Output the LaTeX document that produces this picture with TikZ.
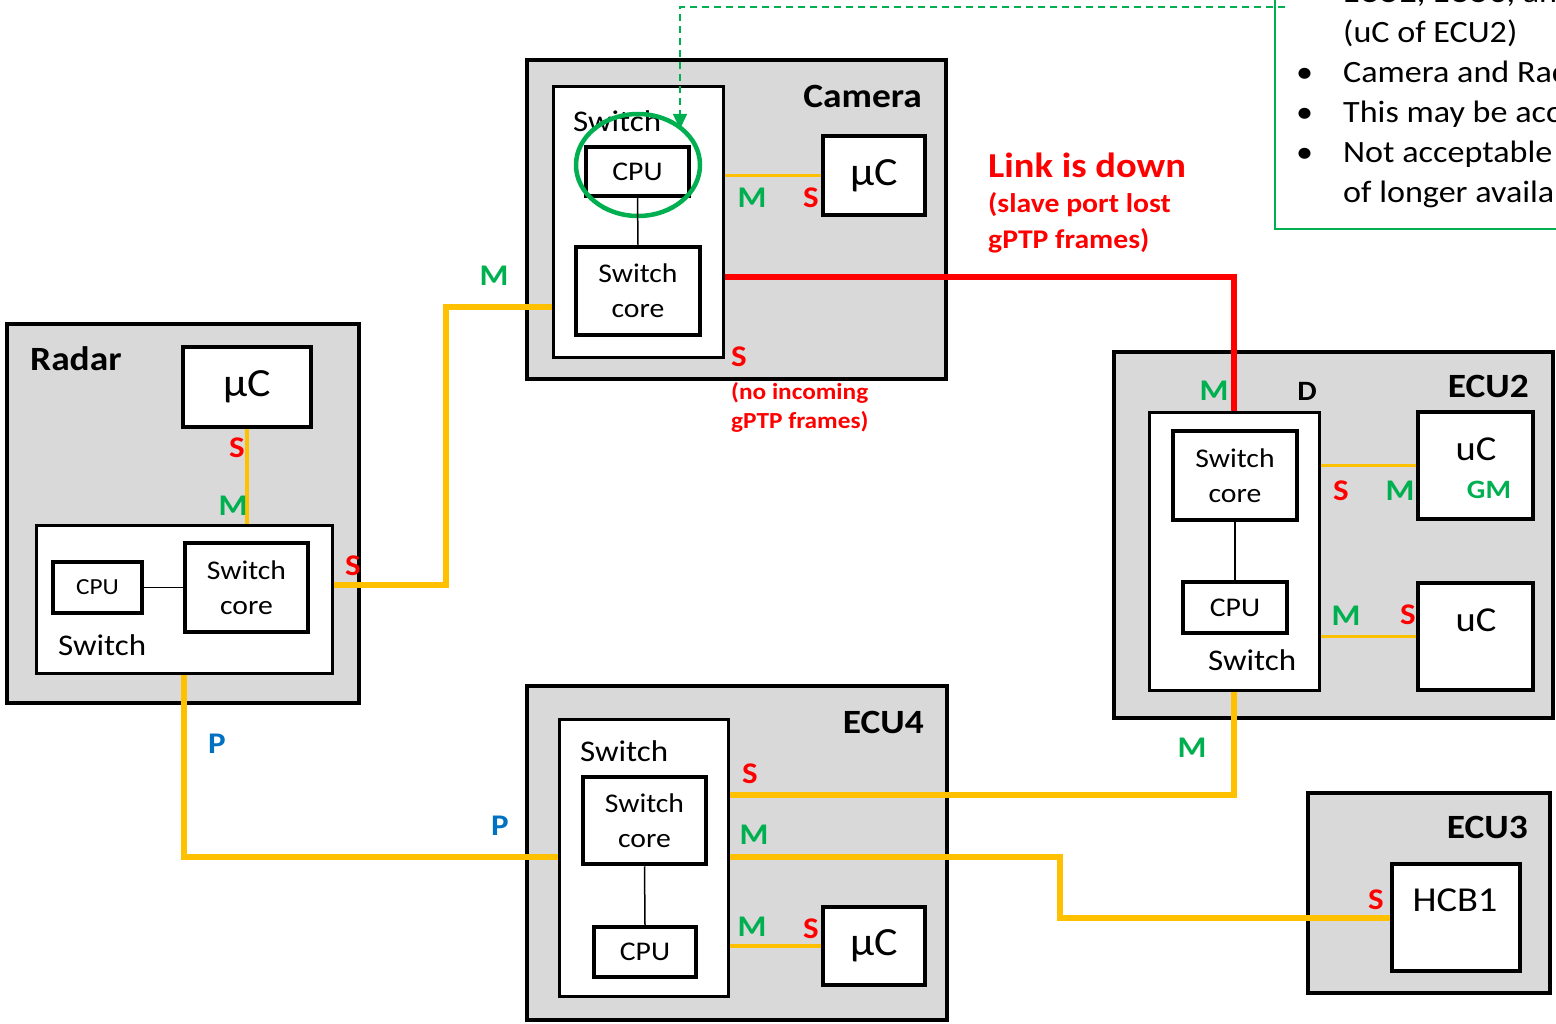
\documentclass[tikz,border=0pt]{standalone}
\usepackage{fontspec}
\setmainfont{Carlito}[FakeStretch=1.1]
\usetikzlibrary{shapes.geometric,arrows.meta}
\definecolor{boxgray}{HTML}{D9D9D9}
\definecolor{lorange}{HTML}{FFC000}
\definecolor{mgreen}{HTML}{00B050}
\definecolor{sred}{HTML}{FF0000}
\definecolor{pblue}{HTML}{0070C0}
\newcommand{\fsz}[2]{\fontsize{#1}{#2}\selectfont}
\tikzset{
  outer/.style={draw, fill=boxgray, line width=4pt, inner sep=0pt},
  swbox/.style={draw, fill=white, line width=3pt, inner sep=0pt},
  inbox/.style={draw, fill=white, line width=4.5pt, inner sep=0pt, align=center},
  mubox/.style={draw, fill=white, line width=3.5pt, inner sep=0pt},
  titletxt/.style={inner sep=0pt, font=\fsz{34}{38}\bfseries},
  swtxt/.style={inner sep=0pt, font=\fsz{30}{34}},
  coretxt/.style={font=\fsz{27}{35}},
  cputxt/.style={font=\fsz{27}{30}},
  mutxt/.style={font=\fsz{40}{42}},
  uctxt/.style={inner sep=0pt, font=\fsz{35}{38}},
  portM/.style={inner sep=0pt, text=mgreen, font=\fsz{30}{32}\bfseries},
  portS/.style={inner sep=0pt, text=sred, font=\fsz{30}{32}\bfseries},
  portP/.style={inner sep=0pt, text=pblue, font=\fsz{30}{32}\bfseries},
  redtxt/.style={inner sep=0pt, text=sred, font=\bfseries, anchor=west},
  notetxt/.style={inner sep=0pt, anchor=base west, font=\fsz{31}{34}},
  thickline/.style={draw=lorange, line width=6pt},
  thinline/.style={draw=lorange, line width=3.5pt},
  redline/.style={draw=sred, line width=6pt},
  innerline/.style={draw=black, line width=1.5pt},
}
\begin{document}
\begin{tikzpicture}[x=1pt,y=-1pt]
\useasboundingbox (0,0) rectangle (1556,1024);
\clip (0,0) rectangle (1556,1024);

% ---------- outer boxes ----------
\node[outer, minimum width=419, minimum height=319] (cam) at (736.5,219.5) {};
\node[outer, minimum width=352, minimum height=379] (radar) at (183,513.5) {};
\node[outer, minimum width=420, minimum height=334] (ecu4) at (737,853) {};
\node[outer, minimum width=439, minimum height=366] (ecu2) at (1333.5,535) {};
\node[outer, minimum width=242, minimum height=200] (ecu3) at (1429,893) {};

\node[titletxt, anchor=east] (camt) at (922,96) {Camera};
\node[titletxt, anchor=west] (radt) at (30,359) {Radar};
\node[titletxt, anchor=east] (e4t) at (924,722) {ECU4};
\node[titletxt, anchor=east] (e2t) at (1529,386) {ECU2};
\node[titletxt, anchor=east] (e3t) at (1528,827) {ECU3};

% ---------- note box ----------
\node[draw=mgreen, line width=2pt, minimum width=320, minimum height=270, inner sep=0pt] (note) at (1435,94) {};
\node[notetxt] (n0) at (1343,3) {ECU2, ECU3, and};
\node[notetxt] (n1) at (1343,43) {(uC of ECU2)};
\node[notetxt] (b2) at (1296,83) {•};
\node[notetxt] (n2) at (1343,83) {Camera and Radar};
\node[notetxt] (b3) at (1296,123) {•};
\node[notetxt] (n3) at (1343,123) {This may be acceptable};
\node[notetxt] (b4) at (1296,163) {•};
\node[notetxt] (n4) at (1343,163) {Not acceptable};
\node[notetxt] (n5) at (1343,203) {of longer availability};

% ---------- Camera ----------
\node[swbox, minimum width=170, minimum height=271] (camsw) at (638,222.5) {};
\node[swtxt, anchor=west] (camswt) at (573,121) {Switch};
\node[inbox, cputxt, minimum width=103, minimum height=49] (camcpu) at (637.5,171.5) {CPU};
\node[inbox, coretxt, minimum width=124, minimum height=88] (camcore) at (638,291) {Switch\\core};
\node[mubox, mutxt, minimum width=102, minimum height=79] (cammu) at (874,175.5) {µC};
\node[draw=mgreen, line width=4.5pt, ellipse, minimum width=124, minimum height=102, inner sep=0pt] (ell) at (638,165) {};

% ---------- Radar ----------
\node[mubox, mutxt, minimum width=128, minimum height=80] (rmu) at (247,387) {µC};
\node[swbox, minimum width=296, minimum height=148] (rsw) at (184,599) {};
\node[inbox, font=\fsz{23}{28}, minimum width=89, minimum height=51] (rcpu) at (97.5,587.5) {CPU};
\node[inbox, coretxt, minimum width=123, minimum height=89] (rcore) at (246.5,587.5) {Switch\\core};
\node[swtxt, anchor=west] (rswt) at (58,645) {Switch};

% ---------- ECU4 ----------
\node[swbox, minimum width=169, minimum height=277] (e4sw) at (643.5,857.5) {};
\node[swtxt, anchor=west] (e4swt) at (580,751) {Switch};
\node[inbox, coretxt, minimum width=123, minimum height=87] (e4core) at (644.5,820.5) {Switch\\core};
\node[inbox, cputxt, minimum width=102, minimum height=50] (e4cpu) at (645,952) {CPU};
\node[mubox, mutxt, minimum width=102, minimum height=78] (e4mu) at (874,946) {µC};

% ---------- ECU2 ----------
\node[swbox, minimum width=170, minimum height=278] (e2sw) at (1234,551) {};
\node[inbox, coretxt, minimum width=124, minimum height=89] (e2core) at (1235,475.5) {Switch\\core};
\node[inbox, cputxt, minimum width=104, minimum height=51] (e2cpu) at (1235,607.5) {CPU};
\node[swtxt, anchor=west] (e2swt) at (1208,660) {Switch};
\node[mubox, minimum width=115, minimum height=107] (uc1) at (1475.5,465.5) {};
\node[uctxt] (uc1t) at (1476,449) {uC};
\node[inner sep=0pt, text=mgreen, font=\fsz{26.5}{30}\bfseries] (gm) at (1489,490) {GM};
\node[mubox, minimum width=115, minimum height=107] (uc2) at (1475.5,636.5) {};
\node[uctxt] (uc2t) at (1476,620) {uC};

% ---------- ECU3 ----------
\node[mubox, minimum width=128, minimum height=107] (hcb) at (1456,917.5) {};
\node[uctxt] (hcbt) at (1455,900) {HCB1};

% ---------- inner lines ----------
\draw[innerline] (camcpu.south) -- (camcore.north);
\draw[innerline] (rcpu.east) -- (rcore.west);
\draw[innerline] (e4core.south) -- (e4cpu.north);
\draw[innerline] (e2core.south) -- (e2cpu.north);

% ---------- links ----------
\draw[thinline] (camsw.east |- cammu.west) -- (cammu.west);
\draw[thinline] (rmu.south) -- (rmu.south |- rsw.north);
\draw[thinline] (e4sw.east |- e4mu.west) -- (e4mu.west);
\draw[thinline] (e2sw.east |- uc1.west) -- (uc1.west);
\draw[thinline] (e2sw.east |- uc2.west) -- (uc2.west);

\draw[thickline] (rsw.east |- 0,585) -| (446,307) -- (camsw.west |- 0,307);
\draw[thickline] (rsw.south) |- (e4sw.west |- 0,857);
\draw[thickline] (e4sw.east |- 0,795) -| (e2sw.south);
\draw[thickline] (e4sw.east |- 0,857) -- (1060,857) |- (hcb.west);
\draw[redline] (camsw.east |- 0,277) -| (e2sw.north);

% ---------- dashed arrow ----------
\coordinate (dstart) at (1285,7);
\coordinate (dend) at (680,129);
\draw[mgreen, line width=1.5pt, dash pattern=on 7pt off 5pt, -{Triangle[length=15pt,width=14pt]}] (dstart) -| (dend);

% ---------- port labels ----------
\node[portM] (cM1) at (752,198) {M};
\node[portS] (cS1) at (811,198) {S};
\node[portS] (cS2) at (739,357) {S};
\node[redtxt, font=\fsz{23}{26}\bfseries] (noinc1) at (731,393) {(no incoming};
\node[redtxt, font=\fsz{23}{26}\bfseries] (noinc2) at (731,422) {gPTP frames)};
\node[portM] (cM2) at (494,276) {M};

\node[portS] (rS1) at (237,448) {S};
\node[portM] (rM1) at (233,506) {M};
\node[portS] (rS2) at (353,566) {S};
\node[portP] (rP) at (217,744) {P};
\node[portP] (e4P) at (500,826) {P};

\node[portS] (e4S1) at (750,774) {S};
\node[portM] (e4M1) at (754,835) {M};
\node[portM] (e4M2) at (752,927) {M};
\node[portS] (e4S2) at (811,929) {S};
\node[portM] (e2M0) at (1192,748) {M};

\node[portM] (e2M1) at (1214,391) {M};
\node[inner sep=0pt, font=\fsz{28}{30}\bfseries] (e2D) at (1307,391) {D};
\node[portS] (e2S1) at (1341,491) {S};
\node[portM] (e2M2) at (1400,491) {M};
\node[portM] (e2M3) at (1346,616) {M};
\node[portS] (e2S2) at (1408,615) {S};
\node[portS] (e3S) at (1376,900) {S};

% ---------- link down text ----------
\node[redtxt, font=\fsz{35}{38}\bfseries] (ld) at (988,165) {Link is down};
\node[redtxt, font=\fsz{27}{30}\bfseries] (ld1) at (988,205) {(slave port lost};
\node[redtxt, font=\fsz{27}{30}\bfseries] (ld2) at (988,241) {gPTP frames)};
\end{tikzpicture}
\end{document}
